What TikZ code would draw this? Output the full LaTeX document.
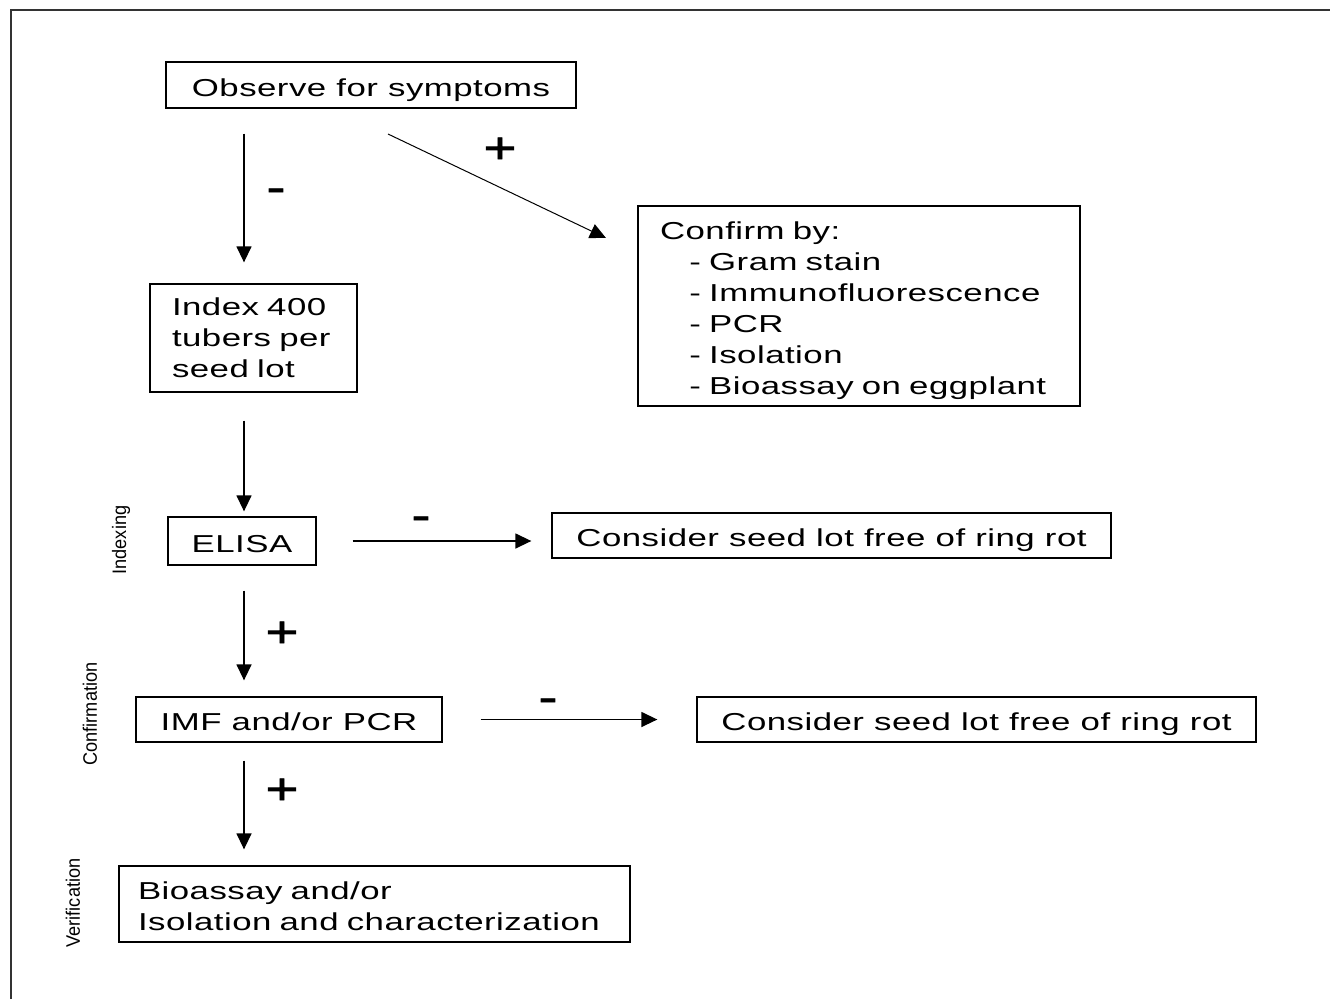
\documentclass[tikz,border=0pt]{standalone}
\usepackage{fontspec}
\setmainfont{Liberation Sans}
\newfontfamily\figfont[FakeStretch=1.42, LetterSpace=2]{Liberation Sans}
\newfontfamily\signfont[FakeStretch=1.3, FakeBold=1.5]{Liberation Sans}
\newfontfamily\sidefont[FakeStretch=0.93]{Liberation Sans}
\usetikzlibrary{arrows.meta}
\begin{document}
\begin{tikzpicture}[x=1pt,y=-1pt,
  box/.style={draw, line width=1.3pt, inner sep=0pt, font=\figfont\fontsize{24.5}{31}\selectfont},
  one/.style={text height=22pt, text depth=0pt},
  arr/.style={line width=1.4pt, -{Triangle[length=16pt,width=15pt]}},
  darr/.style={line width=1pt, -{Triangle[length=16pt,width=15pt]}},
  sign/.style={font=\signfont\fontsize{44}{46}\selectfont, inner sep=0pt, anchor=base},
  side/.style={font=\sidefont\fontsize{19.5}{20}\selectfont, rotate=90, inner sep=0pt}]
\useasboundingbox (0,0) rectangle (1330,999);
\draw[line width=2pt, black!80] (11,999) -- (11,10) -- (1330,10);
% boxes
\node[box, one, minimum width=410pt, minimum height=46pt] (obs) at (371,85) {Observe for symptoms};
\node[box, minimum width=442pt, minimum height=200pt, text width=398pt, align=left, text height=28pt] (conf) at (859,306)
  {Confirm by:\\
   \hspace*{1.2em}- Gram stain\\
   \hspace*{1.2em}- Immunofluorescence\\
   \hspace*{1.2em}- PCR\\
   \hspace*{1.2em}- Isolation\\
   \hspace*{1.2em}- Bioassay on eggplant};
\node[box, minimum width=207pt, minimum height=108pt, text width=163pt, align=left] (idx) at (253.5,338)
  {Index 400\\tubers per\\seed lot};
\node[box, one, minimum width=148pt, minimum height=48pt] (elisa) at (242,541) {ELISA};
\node[box, one, minimum width=559pt, minimum height=45pt] (cons1) at (831.5,535.5) {Consider seed lot free of ring rot};
\node[box, one, minimum width=306pt, minimum height=45pt] (imf) at (289,719.5) {IMF and/or PCR};
\node[box, one, minimum width=559pt, minimum height=45pt] (cons2) at (976.5,719.5) {Consider seed lot free of ring rot};
\node[box, minimum width=511pt, minimum height=76pt, text width=473pt, align=left, text height=22pt] (bio) at (374.5,904)
  {Bioassay and/or\\Isolation and characterization};
% side labels
\node[side] (lidx) at (121,540) {Indexing};
\node[side] (lconf) at (90,714) {Confirmation};
\node[side] (lver) at (73,903) {Verification};
% connectors
\coordinate (spine) at (244,0);
\draw[arr, shorten <=25pt, shorten >=21pt] (obs.south -| spine) -- (idx.north -| spine);
\draw[arr, shorten <=28pt, shorten >=5pt] (idx.south -| spine) -- (elisa.north -| spine);
\draw[arr, shorten <=25pt, shorten >=16pt] (elisa.south -| spine) -- (imf.north -| spine);
\draw[arr, shorten <=18pt, shorten >=16pt] (imf.south -| spine) -- (bio.north -| spine);
\draw[arr, shorten <=36pt, shorten >=20pt] (elisa.east) -- (elisa.east -| cons1.west);
\draw[arr, shorten <=38pt, shorten >=39pt] (imf.east) -- (cons2.west);
\coordinate (d1) at (388,134);
\coordinate (d2) at (606,238);
\draw[darr] (d1) -- (d2);
% signs
\node[sign] (s1) at (276,202) {-};
\node[sign] (s2) at (500,163) {+};
\node[sign] (s3) at (421,530) {-};
\node[sign] (s4) at (282,647) {+};
\node[sign] (s5) at (548,712) {-};
\node[sign] (s6) at (282,804) {+};
\end{tikzpicture}
\end{document}
